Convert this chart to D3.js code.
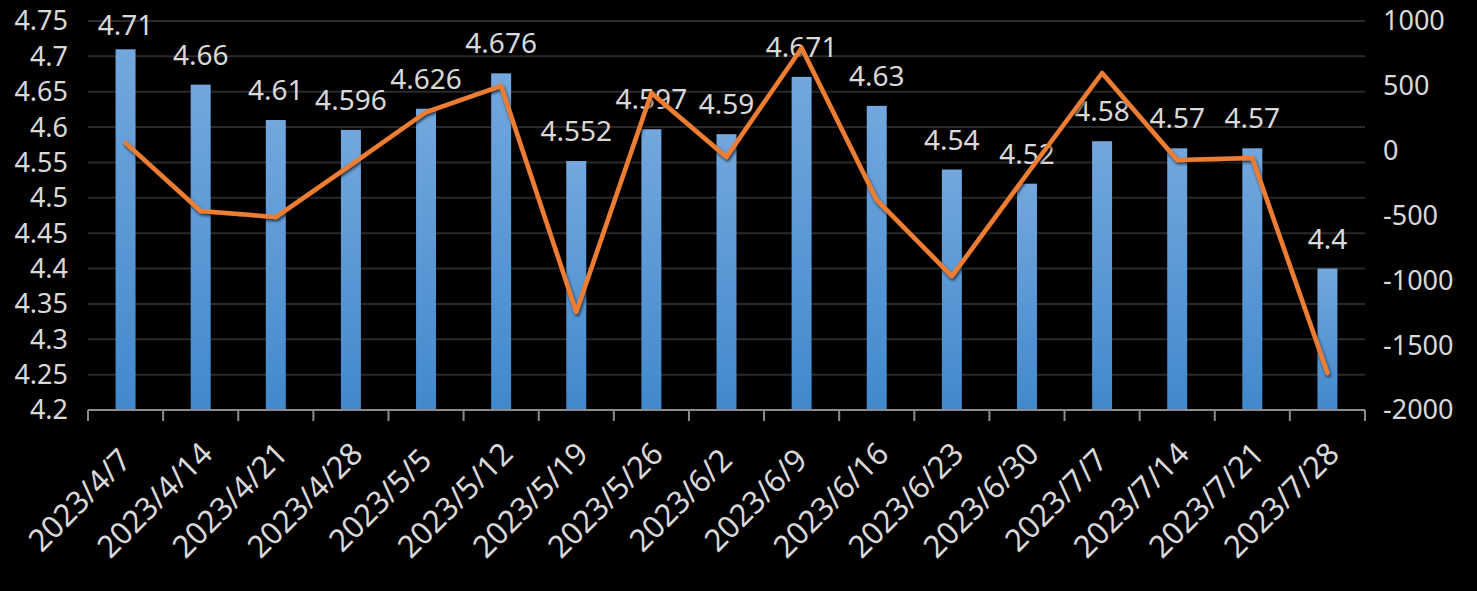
<!DOCTYPE html>
<html>
<head>
<meta charset="utf-8">
<script src="https://cdn.jsdelivr.net/npm/d3@7"></script>
<style>
  html, body { margin: 0; padding: 0; background: #000; }
  svg { display: block; }
  text { font-family: "Noto Sans", "DejaVu Sans", sans-serif; fill: #d9d9d9; }
</style>
</head>
<body>
<script>
// Weekly dates
const dates = ['2023/4/7', '2023/4/14', '2023/4/21', '2023/4/28', '2023/5/5', '2023/5/12',
    '2023/5/19', '2023/5/26', '2023/6/2', '2023/6/9', '2023/6/16', '2023/6/23',
    '2023/6/30', '2023/7/7', '2023/7/14', '2023/7/21', '2023/7/28'];

// Bar series (left axis)
const barValues = [4.71, 4.66, 4.61, 4.596, 4.626, 4.676, 4.552, 4.597, 4.59, 4.671,
    4.63, 4.54, 4.52, 4.58, 4.57, 4.57, 4.4];

// Line series (right axis)
const lineValues = [60, -465, -512, -110, 298, 499, -1244, 445, -49, 792,
    -380, -967, -180, 599, -72, -57, -1715];

// Tick labels
const leftTicks = [4.2, 4.25, 4.3, 4.35, 4.4, 4.45, 4.5, 4.55, 4.6, 4.65, 4.7, 4.75];
const rightTicks = [-2000, -1500, -1000, -500, 0, 500, 1000];

const width = 1477;
const height = 591;
const plot = { left: 88, right: 1365, top: 21, bottom: 410 };

const svg = d3.select('body')
    .append('svg')
    .attr('width', width)
    .attr('height', height);

const defs = svg.append('defs');
const grad = defs.append('linearGradient')
    .attr('id', 'barGrad')
    .attr('x1', 0).attr('y1', 0).attr('x2', 0).attr('y2', 1);
grad.append('stop').attr('offset', '0%').attr('stop-color', '#73a7de');
grad.append('stop').attr('offset', '100%').attr('stop-color', '#4189cc');

const shadow = defs.append('filter').attr('id', 'lineShadow')
    .attr('x', '-5%').attr('y', '-5%').attr('width', '110%').attr('height', '110%');
shadow.append('feDropShadow')
    .attr('dx', 1).attr('dy', 2).attr('stdDeviation', 1.5)
    .attr('flood-color', '#000').attr('flood-opacity', 0.7);

// Scales
const p = 0.734;
const xScale = d3.scaleBand()
    .domain(dates)
    .range([plot.left, plot.right])
    .paddingInner(p)
    .paddingOuter(p / 2);

const yLeft = d3.scaleLinear()
    .domain([4.2, 4.75])
    .range([plot.bottom, plot.top]);

const yRight = d3.scaleLinear()
    .domain([-2000, 1000])
    .range([plot.bottom, plot.top]);

const cx = d => xScale(d) + xScale.bandwidth() / 2;

// Gridlines
svg.append('g')
    .selectAll('line')
    .data(leftTicks.slice(1))
    .enter().append('line')
    .attr('x1', plot.left)
    .attr('x2', plot.right)
    .attr('y1', d => yLeft(d))
    .attr('y2', d => yLeft(d))
    .attr('stroke', '#2a2a2a')
    .attr('stroke-width', 2);

// Bars
svg.append('g')
    .selectAll('rect')
    .data(barValues)
    .enter().append('rect')
    .attr('x', (d, i) => xScale(dates[i]))
    .attr('y', d => yLeft(d))
    .attr('width', xScale.bandwidth())
    .attr('height', d => plot.bottom - yLeft(d))
    .attr('fill', 'url(#barGrad)');

// Category axis
const xAxis = svg.append('g')
    .attr('transform', `translate(0,${plot.bottom})`);
xAxis.append('line')
    .attr('x1', plot.left).attr('x2', plot.right)
    .attr('y1', 0).attr('y2', 0)
    .attr('stroke', '#8c8c8c').attr('stroke-width', 2);
xAxis.selectAll('line.tick')
    .data(d3.range(dates.length + 1))
    .enter().append('line')
    .attr('class', 'tick')
    .attr('x1', i => plot.left + i * xScale.step())
    .attr('x2', i => plot.left + i * xScale.step())
    .attr('y1', 0).attr('y2', 11)
    .attr('stroke', '#8c8c8c').attr('stroke-width', 2);
xAxis.selectAll('text')
    .data(dates)
    .enter().append('text')
    .attr('transform', d => `translate(${cx(d) - 46},${90}) rotate(-45)`)
    .attr('text-anchor', 'middle')
    .attr('dy', '0.35em')
    .style('font-size', '31px')
    .text(d => d);

// Left axis labels
svg.append('g')
    .selectAll('text')
    .data(leftTicks)
    .enter().append('text')
    .attr('x', 68)
    .attr('y', d => yLeft(d))
    .attr('dy', '0.35em')
    .attr('text-anchor', 'end')
    .style('font-size', '27px')
    .text(d => d3.format('')(d));

// Right axis labels
svg.append('g')
    .selectAll('text')
    .data(rightTicks)
    .enter().append('text')
    .attr('x', 1383)
    .attr('y', d => yRight(d))
    .attr('dy', '0.35em')
    .attr('text-anchor', 'start')
    .style('font-size', '27px')
    .text(d => d);

// Data labels
svg.append('g')
    .selectAll('text')
    .data(barValues)
    .enter().append('text')
    .attr('x', (d, i) => cx(dates[i]))
    .attr('y', d => Math.max(yLeft(d) - 20, 35))
    .attr('text-anchor', 'middle')
    .style('font-size', '28px')
    .text(d => d);

// Line series
const line = d3.line()
    .x((d, i) => cx(dates[i]))
    .y(d => yRight(d));

svg.append('path')
    .datum(lineValues)
    .attr('d', line)
    .attr('fill', 'none')
    .attr('stroke', '#ed7d31')
    .attr('stroke-width', 4.5)
    .attr('stroke-linejoin', 'round')
    .attr('stroke-linecap', 'round')
    .attr('filter', 'url(#lineShadow)');
</script>
</body>
</html>
